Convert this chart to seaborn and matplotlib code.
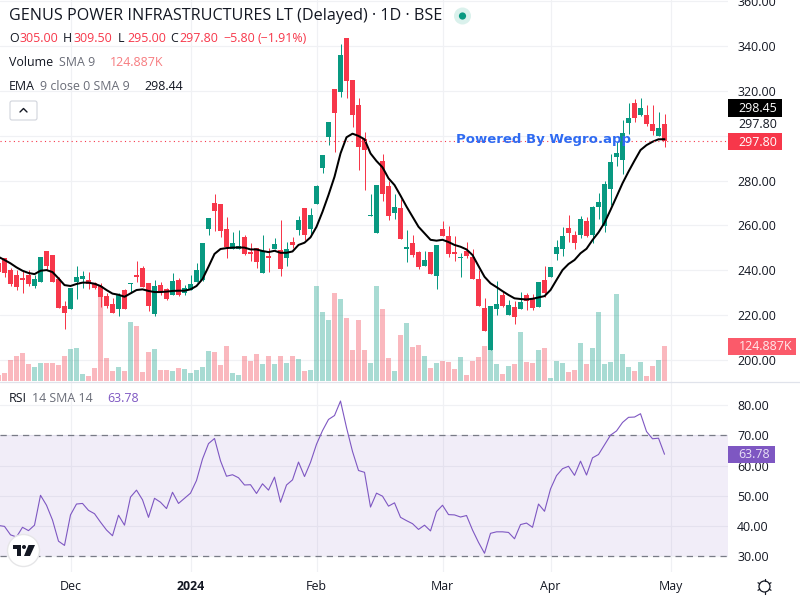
import numpy as np
import matplotlib
matplotlib.use("Agg")
import matplotlib.pyplot as plt
from matplotlib.patches import Circle, FancyBboxPatch, Polygon, Rectangle
import seaborn as sns

sns.set_theme(style="white")
plt.rcParams["font.family"] = ["Open Sans", "DejaVu Sans"]

open_ = [243.1, 245.5, 240.1, 237.9, 236.6, 237.9, 233.0, 234.8, 248.6, 246.8, 236.1, 224.1, 222.7, 234.8, 236.1, 235.7, 234.3, 233.0, 228.5, 225.0, 222.7, 231.2, 233.9, 237.9, 241.0, 234.3, 220.5, 233.4, 231.7, 229.0, 235.7, 229.9, 231.2, 234.8, 235.7, 258.4, 270.0, 269.6, 258.4, 249.5, 249.5, 254.8,
         248.1, 249.9, 238.8, 246.4, 249.5, 249.0, 245.5, 252.6, 257.9, 267.8, 258.4, 269.5, 285.6, 299.4, 320.8, 319.5, 343.5, 324.8, 313.7, 298.5, 264.2, 256.6, 288.7, 277.6, 265.5, 267.8, 249.5, 252.1, 248.1, 241.9, 248.1, 237.5, 258.4, 255.3, 248.1, 245.5, 248.6, 245.9, 236.1, 223.2,
         204.5, 222.7, 229.0, 220.0, 223.6, 222.7, 229.0, 227.2, 223.6, 235.7, 237.0, 247.3, 249.5, 258.9, 255.7, 255.7, 262.0, 255.7, 268.2, 259.7, 276.2, 290.5, 289.2, 305.7, 314.6, 309.2, 309.2, 305.2, 299.9, 305.0]
high = [245.0, 245.5, 241.0, 240.1, 239.8, 240.1, 237.9, 245.9, 248.6, 246.8, 237.2, 226.3, 232.1, 241.9, 239.7, 239.2, 234.8, 234.3, 229.9, 227.6, 229.9, 231.7, 234.3, 244.1, 241.9, 234.3, 235.7, 234.8, 232.1, 238.8, 236.6, 233.4, 237.9, 243.2, 252.2, 263.3, 274.0, 269.6, 263.8, 257.1, 258.0, 255.7,
        252.1, 249.9, 255.7, 249.9, 254.4, 262.4, 252.6, 254.8, 264.2, 267.8, 267.8, 278.0, 291.4, 306.1, 320.8, 340.9, 343.5, 324.8, 316.8, 301.6, 274.0, 278.0, 291.8, 279.8, 274.0, 271.8, 257.9, 255.7, 248.6, 248.6, 248.1, 251.3, 262.0, 259.7, 255.3, 247.7, 252.6, 249.5, 240.1, 227.6,
        224.1, 235.2, 230.8, 226.7, 226.3, 230.3, 229.9, 229.4, 234.8, 241.9, 241.5, 253.5, 259.3, 264.6, 257.5, 264.2, 263.8, 268.7, 274.4, 279.8, 291.8, 297.2, 307.0, 314.6, 316.4, 316.8, 313.7, 313.7, 310.6, 309.5]
low = [238.0, 237.0, 233.0, 231.2, 230.0, 233.0, 232.1, 234.8, 240.1, 234.8, 223.2, 213.8, 222.7, 227.2, 232.1, 231.7, 231.7, 223.6, 223.2, 220.9, 219.6, 222.7, 230.3, 234.8, 232.5, 221.9, 219.6, 229.0, 226.8, 229.0, 228.5, 229.0, 231.2, 234.8, 235.2, 255.7, 257.5, 254.8, 245.5, 249.5, 249.5, 246.8,
       244.1, 241.0, 238.8, 239.2, 249.5, 237.5, 241.9, 249.9, 255.7, 253.5, 255.7, 269.5, 283.4, 295.8, 292.7, 317.2, 316.8, 303.9, 284.7, 275.8, 264.2, 256.6, 270.9, 262.4, 262.9, 253.9, 243.7, 245.9, 240.6, 241.9, 238.3, 231.7, 255.3, 245.9, 244.1, 237.0, 245.5, 236.1, 224.1, 212.9,
       204.5, 220.0, 223.6, 220.0, 216.0, 222.7, 222.3, 222.3, 223.6, 228.1, 237.0, 244.6, 246.4, 252.6, 249.5, 254.4, 254.8, 252.2, 262.9, 257.1, 269.1, 286.5, 282.9, 300.8, 306.1, 308.8, 304.3, 300.3, 299.9, 295.0]
close = [239.4, 238.8, 233.9, 232.5, 235.7, 233.9, 236.1, 245.9, 241.9, 234.8, 223.2, 220.9, 232.1, 237.0, 237.5, 233.9, 232.1, 228.1, 224.1, 220.9, 229.0, 222.7, 234.3, 237.0, 232.5, 224.1, 233.0, 230.8, 227.2, 235.2, 229.0, 232.1, 233.9, 240.1, 252.2, 263.3, 266.4, 257.5, 250.4, 252.2, 250.8, 247.3,
         247.3, 243.7, 248.6, 245.5, 251.7, 240.6, 249.5, 251.3, 262.4, 255.7, 264.6, 277.6, 291.4, 306.1, 310.1, 336.0, 324.4, 309.2, 295.0, 293.6, 264.6, 278.0, 274.0, 264.2, 268.2, 253.9, 250.4, 246.8, 241.5, 244.6, 238.3, 251.3, 255.3, 247.3, 247.3, 245.9, 246.4, 236.1, 224.1, 212.9,
         224.1, 225.0, 224.1, 224.5, 219.2, 225.9, 226.3, 223.2, 234.8, 229.9, 241.5, 250.4, 255.3, 256.6, 252.2, 262.9, 255.3, 268.2, 270.4, 278.5, 288.3, 292.3, 301.2, 307.9, 307.9, 312.3, 305.2, 302.1, 303.4, 297.8]
volume_k = [21.4, 28.5, 74.9, 89.2, 99.9, 60.6, 49.9, 64.2, 64.2, 64.2, 57.1, 89.2, 114.1, 117.7, 25.0, 17.8, 46.4, 318.7, 82.0, 35.7, 49.9, 35.7, 210.5, 196.2, 32.1, 103.4, 114.1, 39.2, 39.2, 35.7, 46.4, 42.8, 28.5, 39.2, 49.9, 107.0, 103.4, 57.1, 124.9, 28.5, 21.4, 89.2, 71.3,
            96.3, 60.6, 89.2, 60.6, 89.2, 64.2, 89.2, 78.5, 35.7, 39.2, 338.9, 246.1, 217.6, 313.9, 292.5, 224.7, 110.6, 217.6, 110.6, 64.2, 338.9, 256.8, 82.0, 35.7, 164.1, 206.9, 121.3, 128.4, 89.2, 46.4, 64.2, 71.3, 67.8, 42.8, 85.6, 21.4, 71.3, 85.6, 124.9,
            110.6, 60.6, 25.0, 53.5, 60.6, 174.8, 67.8, 64.2, 110.6, 117.7, 10.7, 71.3, 64.2, 32.1, 39.2, 135.5, 60.6, 117.7, 246.1, 60.6, 67.8, 310.3, 96.3, 49.9, 35.7, 67.8, 17.8, 53.5, 74.9, 124.9]
ema = [246.0, 244.6, 243.1, 241.3, 239.8, 238.8, 238.3, 239.8, 240.1, 239.2, 236.4, 233.4, 233.0, 233.9, 234.5, 234.5, 234.0, 233.0, 231.2, 229.6, 229.1, 228.2, 229.7, 231.2, 231.5, 230.8, 230.3, 230.3, 230.5, 230.8, 230.9, 230.9, 231.5, 233.0, 236.1, 241.6, 247.3, 249.5, 249.9, 250.1, 250.2, 250.1, 249.3,
       249.3, 248.6, 248.1, 248.7, 247.8, 247.8, 248.4, 251.3, 252.3, 254.7, 259.4, 266.1, 273.6, 281.7, 292.1, 299.3, 300.9, 299.9, 298.4, 292.1, 288.7, 285.9, 281.0, 278.0, 273.3, 268.4, 263.9, 259.4, 256.5, 253.6, 253.2, 253.6, 252.6, 251.3, 250.5, 249.3, 246.8, 241.9, 237.1,
       234.2, 232.5, 230.7, 229.0, 227.5, 227.2, 227.0, 227.3, 227.9, 228.5, 231.2, 235.7, 240.1, 242.8, 244.6, 247.6, 249.6, 253.5, 256.9, 261.2, 266.9, 272.8, 278.8, 284.0, 288.9, 293.6, 295.8, 297.3, 298.4, 298.44]
rsi = [40.2, 39.9, 37.1, 36.4, 39.6, 38.5, 40.3, 50.2, 46.9, 42.0, 35.0, 33.6, 43.7, 47.3, 47.5, 45.2, 44.1, 41.3, 38.7, 36.8, 43.6, 40.3, 49.6, 51.9, 48.7, 42.9, 49.2, 47.9, 45.8, 51.2, 47.5, 49.2, 50.9, 55.1, 62.2, 67.3, 69.0, 61.6, 56.5, 57.0, 56.0, 53.6, 53.7, 50.8, 54.0, 51.9, 56.2, 47.9, 53.6, 55.3, 61.2, 56.4, 61.1, 67.1, 71.6, 75.3, 76.6, 81.4, 72.6, 64.7, 58.4, 57.8, 46.3,
       50.9, 49.9, 46.6, 47.7, 42.9, 41.8, 40.8, 38.9, 40.3, 38.4, 44.8, 46.9, 43.8, 43.7, 43.0, 43.5, 38.7, 34.6, 31.0, 37.6, 38.1, 38.1, 37.9, 35.8, 40.5, 41.0, 39.6, 47.3, 44.9, 52.3, 56.7, 59.0, 59.8, 56.8, 61.5, 56.9, 62.6, 63.7, 66.9, 70.1, 71.5, 74.3, 76.0, 76.1, 77.2, 71.3, 68.9, 69.1, 63.78]

price_ticks = [200, 220, 240, 260, 280, 300, 320, 340, 360]
rsi_ticks = [30, 40, 50, 60, 70, 80]
month_bars = [11, 31, 52, 73, 91, 111]
month_labels = ["Dec", "2024", "Feb", "Mar", "Apr", "May"]

GREEN = "#089981"
RED = "#f7374a"
PURPLE = "#7e57c2"
GRID = "#f0f1f4"
TEXT = "#131722"
MUTED = "#6a6d78"

bars = np.arange(-1, len(close) - 1)
o, h, l, c = map(np.array, (open_, high, low, close))
up = c >= o
direction = np.where(up, "up", "down")
xlim = (-0.75, 120.58)

fig = plt.figure(figsize=(8, 6), dpi=100)


def pane(top, bottom):
    return [0, 1 - bottom / 600, 728 / 800, (bottom - top) / 600]


ax_base = fig.add_axes(pane(0, 382))
ax_vol = fig.add_axes(pane(0, 382))
ax_price = fig.add_axes(pane(0, 382))
ax_rsi = fig.add_axes(pane(382, 572))
overlay = fig.add_axes([0, 0, 1, 1], zorder=10)

# grid and price scale at the bottom, the 300 label sits under the last-price tags
ax_base.set_xlim(xlim)
ax_base.set_ylim(190.2, 360.5)
ax_base.yaxis.tick_right()
ax_base.set_yticks(price_ticks, ["" if v == 300 else f"{v:.2f}" for v in price_ticks])
ax_base.set_xticks(month_bars, [])
ax_base.grid(True, color=GRID, lw=0.85)
ax_base.tick_params(axis="y", length=0, pad=6.5, labelsize=8.9, labelcolor=TEXT)
ax_base.tick_params(axis="x", length=0)

# volume
sns.barplot(x=bars, y=volume_k, hue=direction, palette={"up": "#089981", "down": "#f23645"},
            native_scale=True, dodge=False, width=5 / 6, errorbar=None, legend=False,
            saturation=1, alpha=0.35, linewidth=0, ax=ax_vol)
ax_vol.set_xlim(xlim)
ax_vol.set_ylim(-3.6, 1359)
ax_vol.axis("off")

# candles and ema
for flag, col in [(True, GREEN), (False, RED)]:
    ax_price.vlines(bars[up == flag], l[up == flag], h[up == flag], color=col, lw=0.72)
    ax_price.bar(bars[up == flag], np.abs(c - o)[up == flag], bottom=np.minimum(o, c)[up == flag],
                 width=5 / 6, color=col, linewidth=0)
sns.lineplot(x=bars, y=ema, color="black", lw=1.45, errorbar=None, ax=ax_price)
ax_price.axhline(close[-1], color=RED, lw=0.8, ls=(0, (1, 3)))
ax_price.set_xlim(xlim)
ax_price.set_ylim(190.2, 360.5)
ax_price.axis("off")

# rsi pane
ax_rsi.axhspan(30, 70, color=PURPLE, alpha=0.1, lw=0)
for lev in (30, 70):
    ax_rsi.axhline(lev, color="#787b86", lw=0.9, ls=(0, (5, 4)))
sns.lineplot(x=bars, y=rsi, color=PURPLE, lw=0.8, errorbar=None, ax=ax_rsi)
ax_rsi.set_xlim(xlim)
ax_rsi.set_ylim(24.8, 87.7)
ax_rsi.yaxis.tick_right()
ax_rsi.set_yticks(rsi_ticks, [f"{v:.2f}" for v in rsi_ticks])
ax_rsi.set_xticks(month_bars, month_labels)
ax_rsi.set_xlabel("")
ax_rsi.grid(True, color=GRID, lw=0.85)
ax_rsi.set_axisbelow(True)
ax_rsi.tick_params(axis="y", length=0, pad=6.5, labelsize=8.9, labelcolor=TEXT)
ax_rsi.tick_params(axis="x", length=0, pad=6, labelsize=8.9, labelcolor=TEXT)
ax_rsi.get_xticklabels()[1].set_fontweight("bold")

for ax in (ax_base, ax_rsi):
    sns.despine(ax=ax, left=True, bottom=True, right=True, top=True)
ax_base.patch.set_visible(True)
ax_vol.patch.set_visible(False)
ax_price.patch.set_visible(False)
ax_rsi.patch.set_visible(False)

# everything placed by pixel goes on the overlay
overlay.set_xlim(0, 800)
overlay.set_ylim(600, 0)
overlay.axis("off")
overlay.patch.set_visible(False)


def label(x, y, s, color=TEXT, size=8.9, **kw):
    overlay.text(x, y, s, color=color, fontsize=size, va="center", ha=kw.pop("ha", "left"), **kw)


overlay.plot([0, 800], [381.5, 381.5], color="#e0e3eb", lw=0.9)

label(9, 16, "GENUS POWER INFRASTRUCTURES LT (Delayed) · 1D · BSE", size=11.6)
overlay.add_patch(Circle((462.5, 16), 8.5, color="#daf1ec", lw=0))
overlay.add_patch(Circle((462.5, 16), 3.6, color=GREEN, lw=0))

for x, s, col in [(9, "O", TEXT), (19, "305.00", RED), (63, "H", TEXT), (74, "309.50", RED),
                  (118, "L", TEXT), (127, "295.00", RED), (170, "C", TEXT), (179, "297.80", RED),
                  (223, "−5.80", RED), (257, "(−1.91%)", RED)]:
    label(x, 38.5, s, col)
label(9, 62, "Volume")
label(59, 62, "SMA 9", MUTED)
label(110, 62, "124.887K", "#f77c80")
label(9, 87, "EMA")
label(40, 87, "9 close 0 SMA 9", MUTED)
label(144, 87, "298.44", TEXT)
label(9, 398, "RSI")
label(32, 398, "14 SMA 14", MUTED)
label(107, 398, "63.78", PURPLE)

overlay.add_patch(FancyBboxPatch((10, 101), 27, 19, boxstyle="round,pad=0,rounding_size=2",
                                 fc="white", ec="#d1d4dc", lw=0.8))
overlay.plot([20, 23.5, 27], [112, 108.5, 112], color=TEXT, lw=1.0)

label(456, 139, "Powered By Wegro.app", "#2f6bf2", size=9.5, family="DejaVu Sans", fontweight="bold")

# last value tags on the price scale
for y0, y1, x1, col in [(99, 116.5, 782, "black"), (133, 150, 782, RED),
                        (338, 355, 796, "#fb5a6a"), (446, 463, 775, PURPLE)]:
    overlay.add_patch(Rectangle((728, y0), x1 - 728, y1 - y0, fc=col, lw=0))
label(738, 108, "298.45", "white")
label(738, 124, "297.80", TEXT)
label(738, 142, "297.80", "white")
label(738.5, 346.5, "124.887K", "#ffe9eb")
label(738, 455, "63.78", "#e8e0f5")

# tv logo and settings icon
overlay.add_patch(Circle((23.5, 550.5), 16, fc="white", ec="#e6e6e8", lw=1))
overlay.add_patch(Polygon([(13, 545), (21, 545), (21, 556), (17, 556), (17, 549), (13, 549)], color=TEXT, lw=0))
overlay.add_patch(Circle((24, 547), 2, color=TEXT, lw=0))
overlay.add_patch(Polygon([(28.5, 545), (35, 545), (30, 556), (24, 556)], color=TEXT, lw=0))

overlay.add_patch(Circle((764.5, 586.5), 5.5, fc="white", ec=TEXT, lw=0.9))
for ang in np.arange(0, 360, 60) + 30:
    dx, dy = np.cos(np.radians(ang)), np.sin(np.radians(ang))
    overlay.plot([764.5 + 5.5 * dx, 764.5 + 7.5 * dx], [586.5 + 5.5 * dy, 586.5 + 7.5 * dy], color=TEXT, lw=0.9)

fig.savefig("out.png", dpi=100)
